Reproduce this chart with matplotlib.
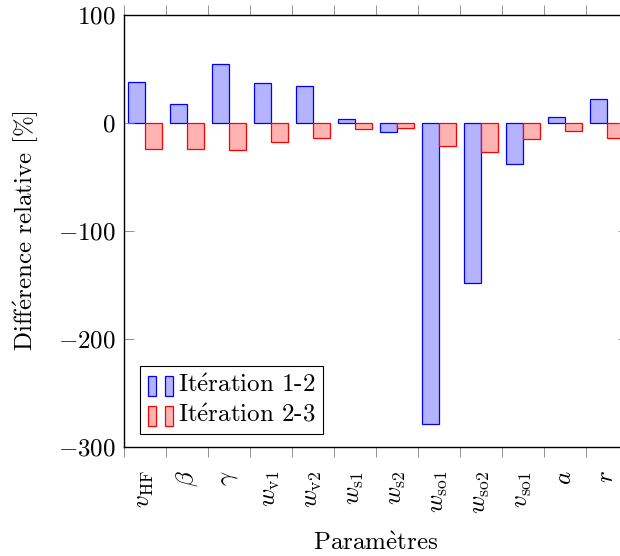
import matplotlib
matplotlib.use('Agg')
import matplotlib.pyplot as plt
from matplotlib.patches import Rectangle
from matplotlib.legend_handler import HandlerBase
import numpy as np

# data
labels = [r'$v_{\mathrm{HF}}$', r'$\beta$', r'$\gamma$', r'$w_{\mathrm{v1}}$',
          r'$w_{\mathrm{v2}}$', r'$w_{\mathrm{s1}}$', r'$w_{\mathrm{s2}}$',
          r'$w_{\mathrm{so1}}$', r'$w_{\mathrm{so2}}$', r'$v_{\mathrm{so1}}$',
          r'$a$', r'$r$']
iter12 = [38, 18, 55, 37, 34, 4, -8, -279, -148, -38, 6, 22]
iter23 = [-24, -24, -25, -18, -14, -6, -5, -21, -27, -15, -7, -14]
yticks = [100, 0, -100, -200, -300]

plt.rcParams['font.family'] = ['cmr10']
plt.rcParams['mathtext.fontset'] = 'cm'
plt.rcParams['axes.formatter.use_mathtext'] = True
fs = 18

blue_face = (0.7, 0.7, 1.0)
red_face = (1.0, 0.7, 0.7)


class BarPair(HandlerBase):
    # pgfplots-style ybar legend: two small bars side by side
    def create_artists(self, legend, orig_handle, xdescent, ydescent,
                       width, height, fontsize, trans):
        face, edge = orig_handle
        bw = width * 0.32
        y0 = -ydescent - 0.15 * height
        out = []
        for x0 in (-xdescent, -xdescent + width - bw):
            r = Rectangle((x0, y0), bw, height, facecolor=face, edgecolor=edge,
                          linewidth=0.9, transform=trans)
            out.append(r)
        return out


fig = plt.figure(figsize=(6.2, 5.56), dpi=100)
ax = fig.add_axes([124 / 620, 1 - 447 / 556, 504 / 620, 432 / 556])

x = np.arange(len(labels))
w = 0.405
ax.bar(x - w / 2, iter12, width=w, facecolor=blue_face, edgecolor='blue', linewidth=0.9)
ax.bar(x + w / 2, iter23, width=w, facecolor=red_face, edgecolor='red', linewidth=0.9)

ax.set_xlim(-0.5, len(labels) - 0.5)
ax.set_ylim(-300, 100)

ax.set_xticks(x)
ax.set_xticklabels(labels, rotation=90, fontsize=fs)
ax.tick_params(axis='x', which='major', length=0, pad=17)
ax.set_xticks(np.arange(-0.5, len(labels)), minor=True)
ax.tick_params(axis='x', which='minor', direction='out', length=7, width=0.6,
               color='gray', top=True, bottom=True)

ax.set_yticks(yticks)
ax.set_yticklabels([r'$%d$' % v if v >= 0 else r'$-%d$' % -v for v in yticks], fontsize=fs)
ax.tick_params(axis='y', direction='in', length=7, width=0.6, color='gray',
               left=True, right=True, pad=6)

for s in ax.spines.values():
    s.set_linewidth(1.0)

ax.set_ylabel(r'Diff$\acute{\mathrm{e}}$rence relative [%]', fontsize=fs, labelpad=13)
ax.set_xlabel(r'Param$\grave{\mathrm{e}}$tres', fontsize=fs, labelpad=13)

leg = ax.legend([(blue_face, 'blue'), (red_face, 'red')],
                [r'It$\acute{\mathrm{e}}$ration 1-2', r'It$\acute{\mathrm{e}}$ration 2-3'],
                handler_map={tuple: BarPair()}, loc='lower left',
                bbox_to_anchor=(16 / 504, 13 / 432), borderaxespad=0,
                prop={'size': 18},
                handlelength=1.0, handleheight=0.85, handletextpad=0.2,
                borderpad=0.3, labelspacing=0.25, fancybox=False,
                edgecolor='black', framealpha=1)
leg.get_frame().set_linewidth(0.8)

fig.savefig('out.png', dpi=100)
